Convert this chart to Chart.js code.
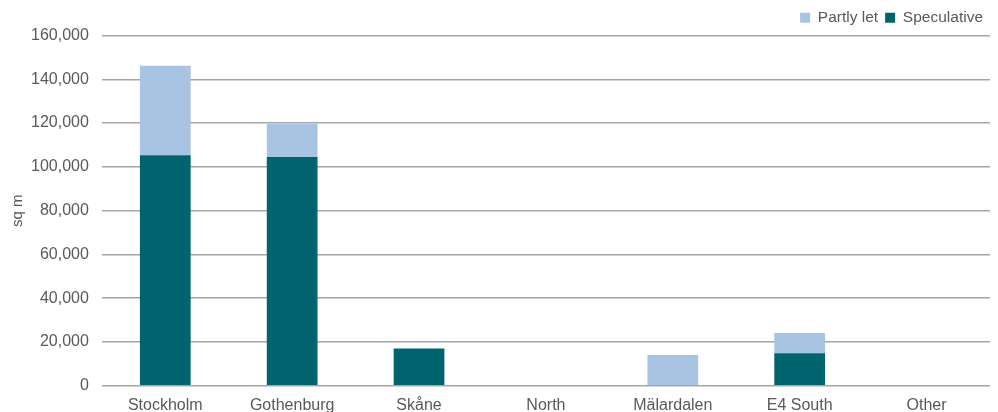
<!DOCTYPE html>
<html>
<head>
<meta charset="utf-8">
<script src="https://cdn.jsdelivr.net/npm/chart.js@4"></script>
<style>
  html, body { margin: 0; padding: 0; background: #ffffff; }
  #wrap { width: 998px; height: 412px; }
</style>
</head>
<body>
<div id="wrap"><canvas id="canvasSpace"></canvas></div>
<script>
const regions = ["Stockholm", "Gothenburg", "Skåne", "North", "Mälardalen", "E4 South", "Other"];
const speculative = [105300, 104500, 17000, 0, 0, 14900, 0];
const partlyLet = [40900, 15200, 0, 0, 14100, 9200, 0];

const ctx = document.getElementById("canvasSpace").getContext("2d");

const canvasSpace = new Chart(ctx, {
    type: 'bar',
    data: {
        labels: regions,
        datasets: [{
            label: 'Speculative',
            data: speculative,
            backgroundColor: '#00646e',
            categoryPercentage: 0.8,
            barPercentage: 0.5
        }, {
            label: 'Partly let',
            data: partlyLet,
            backgroundColor: '#a9c4e3',
            categoryPercentage: 0.8,
            barPercentage: 0.5
        }]
    },
    options: {
        responsive: true,
        maintainAspectRatio: false,
        animation: false,
        layout: { padding: { left: 0, right: 8, top: 3, bottom: -5 } },
        plugins: {
            legend: {
                position: 'top',
                align: 'end',
                reverse: true,
                labels: {
                    boxWidth: 10,
                    boxHeight: 10,
                    padding: 7,
                    color: '#595959',
                    font: { family: 'Liberation Sans', size: 15.5 }
                }
            },
            tooltip: { enabled: false }
        },
        scales: {
            x: {
                stacked: true,
                grid: { display: false },
                border: { display: false },
                ticks: { color: '#595959', font: { family: 'Liberation Sans', size: 16 }, padding: 2 }
            },
            y: {
                stacked: true,
                min: 0,
                max: 160000,
                ticks: {
                    stepSize: 20000,
                    color: '#595959',
                    padding: 13,
                    font: { family: 'Liberation Sans', size: 16 },
                    callback: v => v.toLocaleString('en-US')
                },
                grid: { color: '#a6a6a6', lineWidth: 1.5, drawTicks: false },
                border: { display: false },
                title: {
                    display: true,
                    text: 'sq m',
                    color: '#595959',
                    padding: { top: 9, bottom: -9 },
                    font: { family: 'Liberation Sans', size: 15 }
                }
            }
        }
    }
});
</script>
</body>
</html>
